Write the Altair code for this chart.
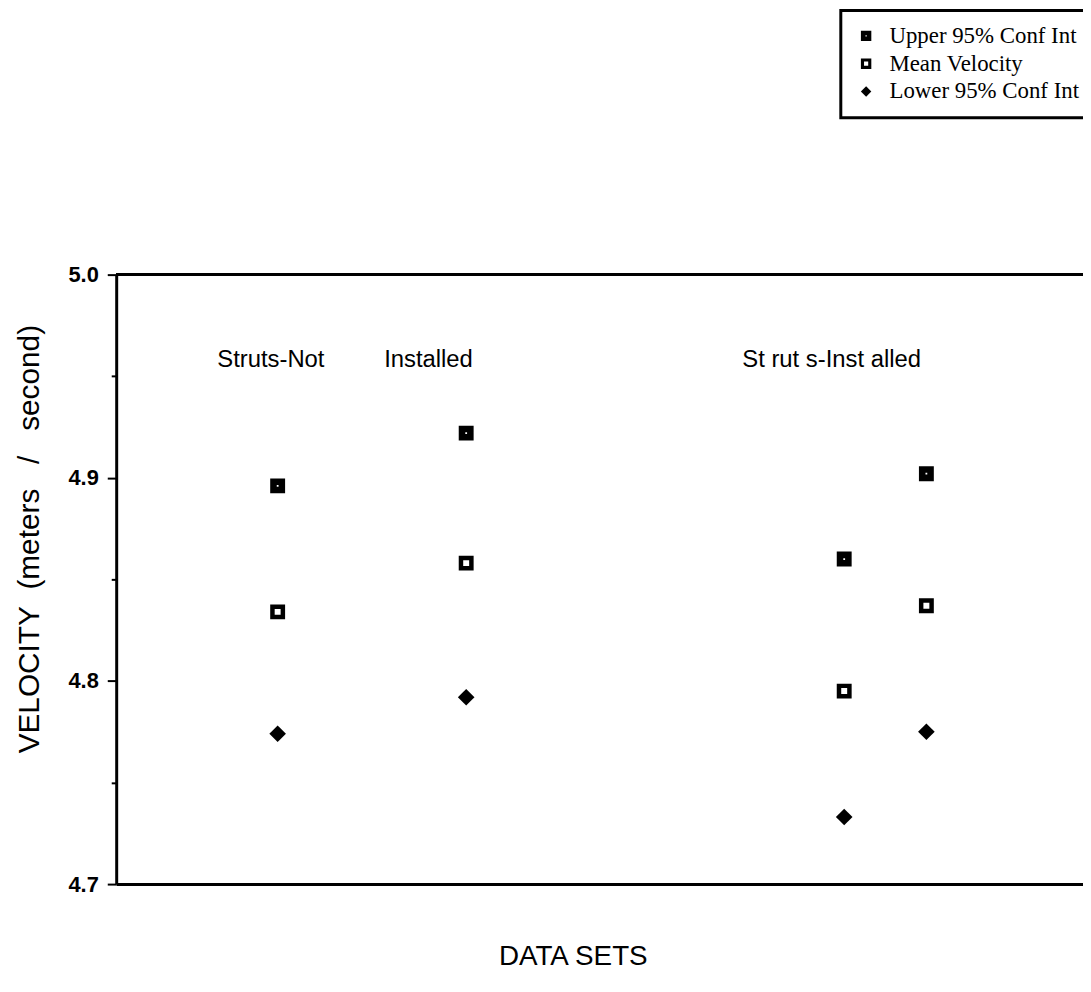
import altair as alt
import pandas as pd

# ---- data ----
set_positions = [1.67, 3.62, 7.53, 8.38]          # location of each data set along the x axis (0-10)
upper_ci = [4.896, 4.922, 4.860, 4.902]
mean_velocity = [4.834, 4.858, 4.795, 4.837]
lower_ci = [4.774, 4.792, 4.733, 4.775]

series_names = ["Upper 95% Conf Int", "Mean Velocity", "Lower 95% Conf Int"]

group_labels = ["Struts-Not", "Installed", "St rut s-Inst alled"]
group_label_x = [1.60, 3.23, 7.40]
group_label_y = [4.958, 4.958, 4.958]

y_ticks = [4.7, 4.75, 4.8, 4.85, 4.9, 4.95, 5.0]

NB = "\u00a0"
y_title = "VELOCITY" + NB * 2 + "(meters" + NB * 3 + "/" + NB * 3 + "second)"

# ---- long table ----
rows = []
for name, vals in zip(series_names, [upper_ci, mean_velocity, lower_ci]):
    for x, v in zip(set_positions, vals):
        rows.append({"set": x, "velocity": v, "series": name})
df = pd.DataFrame(rows)

labels_df = pd.DataFrame({"x": group_label_x, "y": group_label_y, "text": group_labels})

SQ_DOT = "M-1,-1H1V1H-1Z M-0.12,-0.12V0.12H0.12V-0.12Z"
SQ_HOLE = "M-1,-1H1V1H-1Z M-0.4,-0.4V0.4H0.4V-0.4Z"
DIAMOND = "diamond"

x_scale = alt.Scale(domain=[0, 10], nice=False, zero=False)
y_scale = alt.Scale(domain=[4.7, 5.0], nice=False, zero=False)

major_test = "abs(datum.value*10 - round(datum.value*10)) < 0.001"

points = alt.Chart(df).mark_point(filled=True, opacity=1, color="black").encode(
    x=alt.X("set:Q", scale=x_scale,
            axis=alt.Axis(title="DATA SETS", labels=False, ticks=False, grid=False,
                          domainColor="black", domainWidth=3,
                          titleFont="Liberation Sans", titleFontSize=28, titleFontWeight="normal",
                          titleX=460, titleY=73, titleBaseline="middle", titleAlign="center",
                          titleColor="black")),
    y=alt.Y("velocity:Q", scale=y_scale,
            axis=alt.Axis(title=y_title, values=y_ticks, grid=False,
                          labelExpr=f"{major_test} ? format(datum.value, '.1f') : ''",
                          tickSize={"condition": {"test": major_test, "value": 9}, "value": 5},
                          tickWidth=2, tickColor="black",
                          domainColor="black", domainWidth=3,
                          labelFont="Liberation Sans", labelFontSize=22, labelFontWeight="bold",
                          labelColor="black", labelPadding=9,
                          titleFont="Liberation Sans", titleFontSize=30, titleFontWeight="normal",
                          titleColor="black", titleAngle=270, titleX=-87, titleY=266,
                          titleBaseline="middle", titleAlign="center")),
    shape=alt.Shape("series:N",
                    scale=alt.Scale(domain=series_names, range=[SQ_DOT, SQ_HOLE, DIAMOND]),
                    legend=alt.Legend(title=None, orient="none", legendX=730, legendY=-266,
                                      labelFont="Liberation Serif", labelFontSize=23,
                                      labelColor="black", labelLimit=0,
                                      symbolSize=110, symbolFillColor="black",
                                      symbolStrokeWidth=0, symbolOpacity=1,
                                      rowPadding=4, padding=14, labelOffset=12,
                                      strokeColor="black", fillColor="white")),
    size=alt.condition(alt.datum.series == "Lower 95% Conf Int", alt.value(280), alt.value(225)),
)

top_rule = alt.Chart(df).mark_rule(color="black", strokeWidth=3).encode(y=alt.datum(5.0))

texts = alt.Chart(labels_df).mark_text(font="Liberation Sans", fontSize=24, color="black",
                                       align="center", baseline="middle").encode(
    x=alt.X("x:Q", scale=x_scale), y=alt.Y("y:Q", scale=y_scale), text="text:N")

chart = alt.layer(top_rule, points, texts).properties(
    width=974, height=614,
    autosize=alt.AutoSizeParams(type="none"),
    padding={"left": 109, "top": 265, "right": 0, "bottom": 92},
).configure_view(stroke=None).configure_legend(strokeWidth=3)

chart.save("out.html", embed_options={"renderer": "svg", "actions": False})
